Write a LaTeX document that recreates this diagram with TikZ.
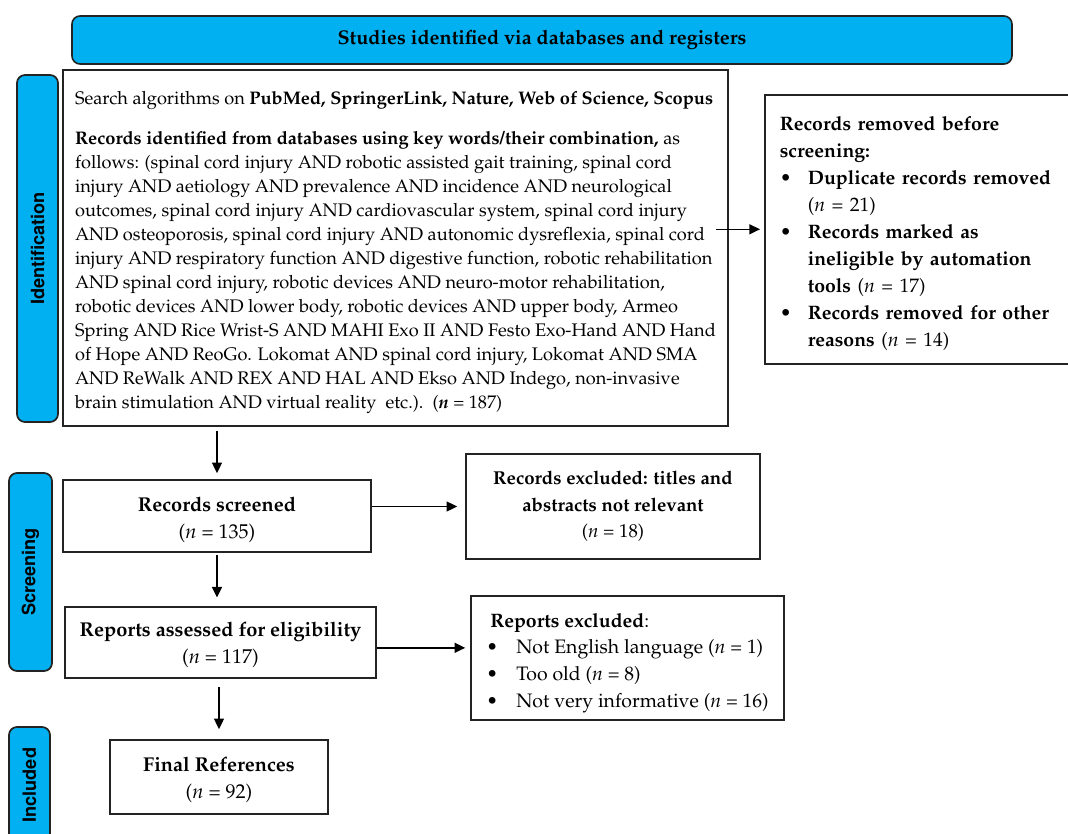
\documentclass[tikz,border=0pt]{standalone}
\usepackage[T1]{fontenc}
\usepackage{mathpazo}
\usepackage[scaled=0.92]{helvet}
\usetikzlibrary{arrows.meta}
\definecolor{prismablue}{RGB}{0,176,240}
\definecolor{edgegray}{RGB}{35,35,35}
\newcommand{\mytopstrut}[1]{\rule{0pt}{#1}}
\begin{document}
\begin{tikzpicture}[x=0.75pt,y=-0.75pt,
  box/.style={draw=edgegray,line width=1.2pt,fill=white,inner sep=0pt},
  phase/.style={draw=edgegray,line width=1.3pt,fill=prismablue,rounded corners=6pt,rotate=90,inner sep=0pt,font=\fontsize{14.8}{17}\selectfont\sffamily\bfseries},
  arr/.style={draw=black,line width=1.1pt,-{Triangle[length=8pt,width=7.5pt]}},
  bodytext/.style={font=\fontsize{13.65}{18}\selectfont},
  sidetext/.style={font=\fontsize{14.6}{20.2}\selectfont},
  midtext/.style={font=\fontsize{14}{20}\selectfont},
  bigtext/.style={font=\fontsize{15}{20}\selectfont},
]
\useasboundingbox (0,0) rectangle (1068,834);

% banner
\node[box,fill=prismablue,rounded corners=6pt,minimum width=705pt,minimum height=36pt,
      font=\fontsize{14.9}{17}\selectfont\bfseries] (banner) at (542,40)
  {Studies identified via databases and registers};

% phase labels
\node[phase,minimum width=260.25pt,minimum height=30.75pt] (idlab) at (37.5,248.5) {Identification};
\node[phase,minimum width=148.5pt,minimum height=32.25pt] (sclab) at (30.5,572) {Screening};
\node[phase,minimum width=87pt,minimum height=30.75pt] (inlab) at (29.5,785) {Included};

% identification
\node[box,bodytext,align=left,minimum width=498.75pt,minimum height=267pt] (search) at (395.5,248) {%
\mytopstrut{16pt}Search algorithms on \textbf{PubMed, SpringerLink, Nature, Web of Science, Scopus}\\[12pt]
\textbf{Records identified from databases using key words/their combination,} as\\
follows: (spinal cord injury AND robotic assisted gait training, spinal cord\\
injury AND aetiology AND prevalence AND incidence AND neurological\\
outcomes, spinal cord injury AND cardiovascular system, spinal cord injury\\
AND osteoporosis, spinal cord injury AND autonomic dysreflexia, spinal cord\\
injury AND respiratory function AND digestive function, robotic rehabilitation\\
AND spinal cord injury, robotic devices AND neuro-motor rehabilitation,\\
robotic devices AND lower body, robotic devices AND upper body, Armeo\\
Spring AND Rice Wrist-S AND MAHI Exo II AND Festo Exo-Hand AND Hand\\
of Hope AND ReoGo. Lokomat AND spinal cord injury, Lokomat AND SMA\\
AND ReWalk AND REX AND HAL AND Ekso AND Indego, non-invasive\\
brain stimulation AND virtual reality\ \ etc.).\ \ (\textbf{\textit{n}} = 187)};

\node[box,sidetext,align=left,anchor=north west,inner xsep=11.25pt,
      text width=215pt,minimum height=201.75pt] (removed) at (764,94) {%
\mytopstrut{16.8pt}\textbf{Records removed before}\\
\textbf{screening:}\\
\makebox[21pt][l]{\textbullet}\textbf{Duplicate records removed}\\
\hspace*{21pt}(\textit{n} = 21)\\
\makebox[21pt][l]{\textbullet}\textbf{Records marked as}\\
\hspace*{21pt}\textbf{ineligible by automation}\\
\hspace*{21pt}\textbf{tools} (\textit{n} = 17)\\
\makebox[21pt][l]{\textbullet}\textbf{Records removed for other}\\
\hspace*{21pt}\textbf{reasons} (\textit{n} = 14)};

% screening
\node[box,bigtext,align=center,minimum width=231pt,minimum height=54pt] (screened) at (217,516)
  {\mytopstrut{17pt}\textbf{Records screened}\\(\textit{n} = 135)};
\node[box,midtext,align=center,minimum width=220.5pt,minimum height=78.75pt] (excl) at (613,506.5)
  {\textbf{Records excluded: titles and}\\\textbf{abstracts not relevant}\\(\textit{n} = 18)};
\node[box,bigtext,align=center,minimum width=233.25pt,minimum height=53.25pt] (assessed) at (220.5,642.5)
  {\mytopstrut{14pt}\textbf{Reports assessed for eligibility}\\(\textit{n} = 117)};
\node[box,sidetext,align=left,minimum width=234.75pt,minimum height=93pt] (repexcl) at (627.5,658)
  {\mytopstrut{18.3pt}\hspace*{3pt}\textbf{Reports excluded}:\\
   \makebox[22.5pt][l]{\textbullet}Not English language (\textit{n} = 1)\\
   \makebox[22.5pt][l]{\textbullet}Too old (\textit{n} = 8)\\
   \makebox[22.5pt][l]{\textbullet}Not very informative (\textit{n} = 16)};

% included
\node[box,bigtext,align=center,minimum width=163.5pt,minimum height=55.5pt] (final) at (219,777)
  {\mytopstrut{15.5pt}\textbf{Final References}\\(\textit{n} = 92)};

% connectors
\draw[arr,shorten <=-9.5pt,shorten >=3pt] (search.east |- removed.west) -- (removed.west);
\draw[arr,shorten <=3pt,shorten >=4.5pt] (search.south -| screened.north) -- (screened.north);
\draw[arr,shorten >=6pt] (screened.east |- excl.west) -- (excl.west);
\draw[arr,shorten <=2pt,shorten >=6.5pt] (screened.south) -- (screened.south |- assessed.north);
\draw[arr,shorten >=3.75pt] ([yshift=-4pt]assessed.east) -- ([yshift=-4pt]assessed.east -| repexcl.west);
\draw[arr,shorten <=6.5pt,shorten >=7.5pt] (final.north |- assessed.south) -- (final.north);
\end{tikzpicture}
\end{document}
